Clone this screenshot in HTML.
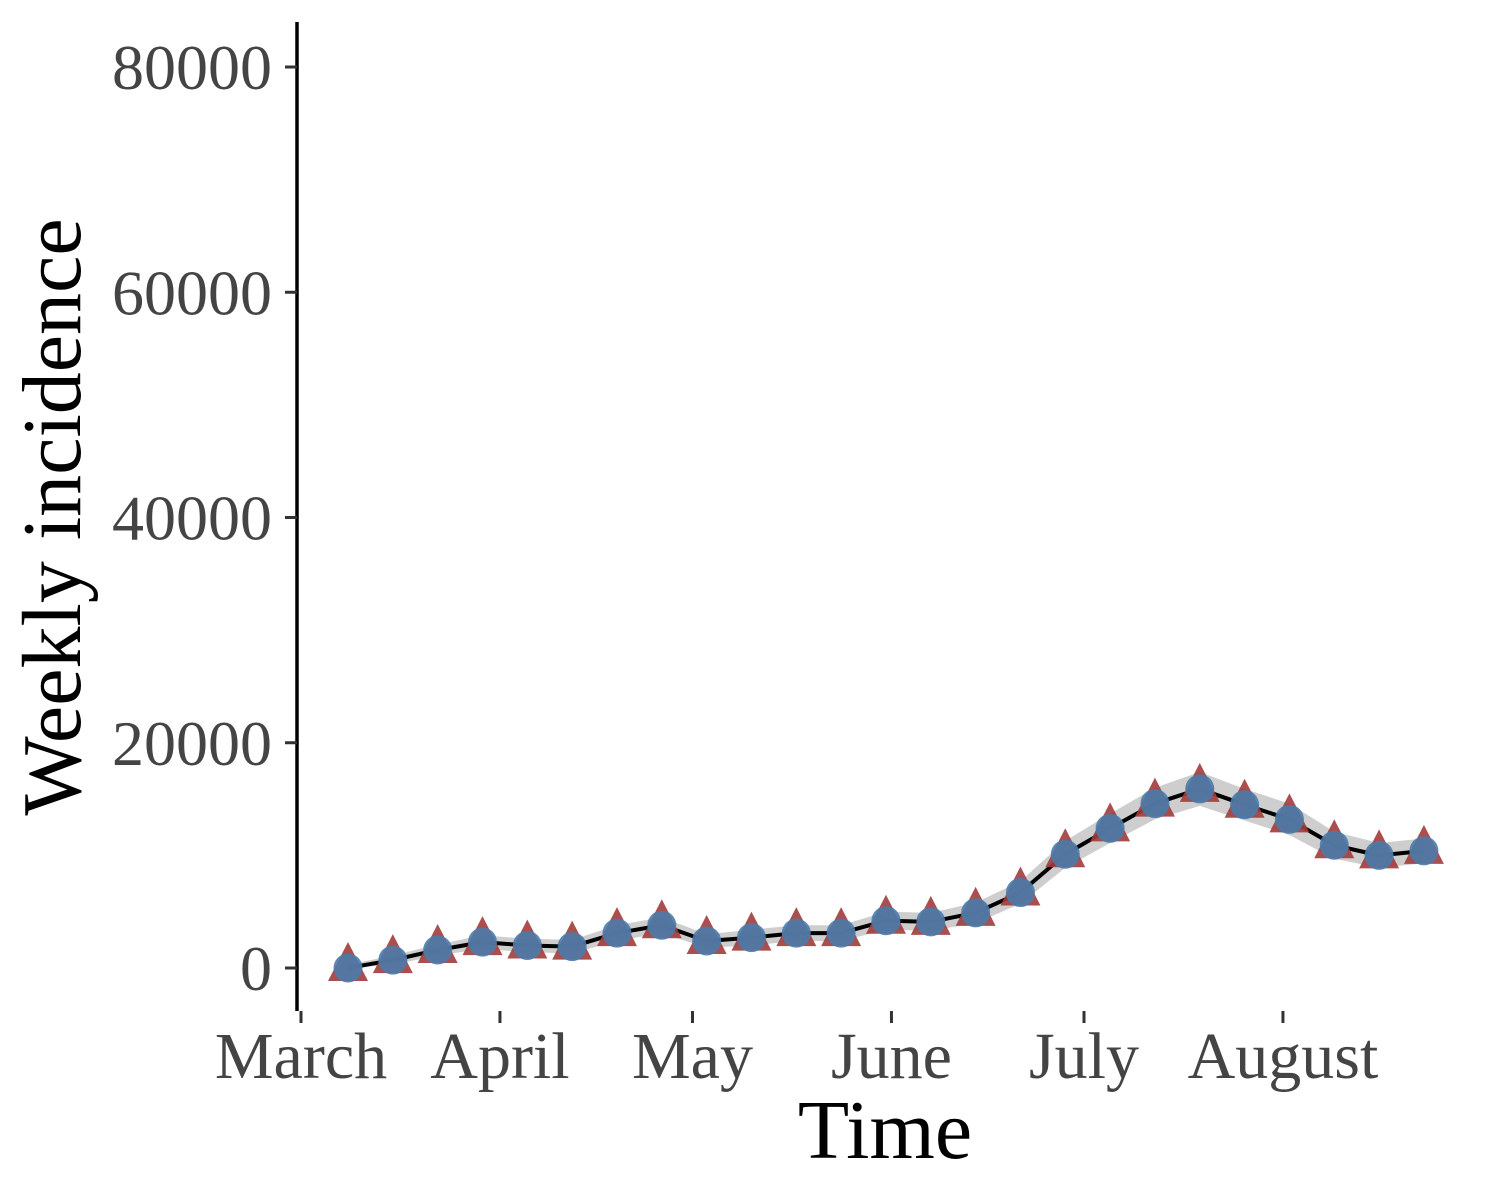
<!DOCTYPE html>
<html><head><meta charset="utf-8"><style>
html,body{margin:0;padding:0;background:#fff;}
svg{display:block;font-family:"Liberation Serif",serif;}
</style></head><body>
<svg id="chart" width="1500" height="1200" viewBox="0 0 1500 1200">
<g id="ribbon"></g>
<g id="line"></g>
<g id="points"></g>
<line x1="297" y1="22" x2="297" y2="1011" stroke="#000" stroke-width="3.5"/>
<g id="yticks"></g>
<g id="xticks"></g>
<text x="885" y="1158" font-size="84" text-anchor="middle" fill="#000">Time</text>
<text transform="translate(80,517) rotate(-90)" font-size="84" text-anchor="middle" fill="#000">Weekly incidence</text>
</svg>
<script>
const weekIndex = [0,1,2,3,4,5,6,7,8,9,10,11,12,13,14,15,16,17,18,19,20,21,22,23,24];
const incidence = [0,700,1600,2300,2000,1900,3100,3800,2400,2700,3100,3100,4200,4100,4900,6700,10100,12400,14600,15900,14500,13200,10900,10000,10400];
const ribbonHalf = [300,400,500,600,600,600,700,700,600,700,700,700,800,800,900,1000,1200,1300,1400,1500,1400,1400,1200,1100,1100];
const yTickValues = [0,20000,40000,60000,80000];
const monthLabels = ["March","April","May","June","July","August"];
const monthDays = [0,31,61,92,122,153];
const firstPointDay = 7.3;

const NS="http://www.w3.org/2000/svg";
function xDay(d){return 301 + d*6.418;}
function xWeek(i){return 348 + i*44.83;}
function y(v){return 968 - v*(901/80000);}
function mk(t,a,p){const e=document.createElementNS(NS,t);for(const k in a)e.setAttribute(k,a[k]);p.appendChild(e);return e;}

const rib=document.getElementById('ribbon');
let up=weekIndex.map((w,i)=>xWeek(w)+','+y(incidence[i]+ribbonHalf[i]));
let dn=weekIndex.map((w,i)=>xWeek(w)+','+y(Math.max(0,incidence[i]-ribbonHalf[i]))).reverse();
const rp=mk('polygon',{points:up.concat(dn).join(' '),fill:'#bdbdbd','fill-opacity':'0.75'},rib);



const ln=document.getElementById('line');
const pl=mk('polyline',{points:weekIndex.map((w,i)=>xWeek(w)+','+y(incidence[i])).join(' '),fill:'none',stroke:'#000','stroke-width':4,'stroke-linejoin':'round'},ln);



const pts=document.getElementById('points');
weekIndex.forEach((w,i)=>{
  const cx=xWeek(w), cy=y(incidence[i]);
  const g=mk('g',{},pts);
  
  
  mk('polygon',{points:(cx)+','+(cy-26)+' '+(cx-20)+','+(cy+13)+' '+(cx+20)+','+(cy+13),fill:'#a23b3b','fill-opacity':'0.9'},g);
  mk('circle',{cx:cx,cy:cy,r:14.5,fill:'#4a7bab','fill-opacity':'0.9'},g);
});

const yt=document.getElementById('yticks');
yTickValues.forEach(v=>{
  const g=mk('g',{},yt);
  
  
  mk('line',{x1:285,x2:297,y1:y(v),y2:y(v),stroke:'#333','stroke-width':3},g);
  const t=mk('text',{x:272,y:y(v)+22,'font-size':64,'text-anchor':'end',fill:'#444'},g);
  t.textContent=v;
});
const xt=document.getElementById('xticks');
monthLabels.forEach((m,i)=>{
  const x=xDay(monthDays[i]);
  const g=mk('g',{},xt);
  
  
  mk('line',{x1:x,x2:x,y1:1011,y2:1023,stroke:'#333','stroke-width':3},g);
  const t=mk('text',{x:x,y:1078,'font-size':66,'text-anchor':'middle',fill:'#444'},g);
  t.textContent=m;
});
</script>
</body></html>
